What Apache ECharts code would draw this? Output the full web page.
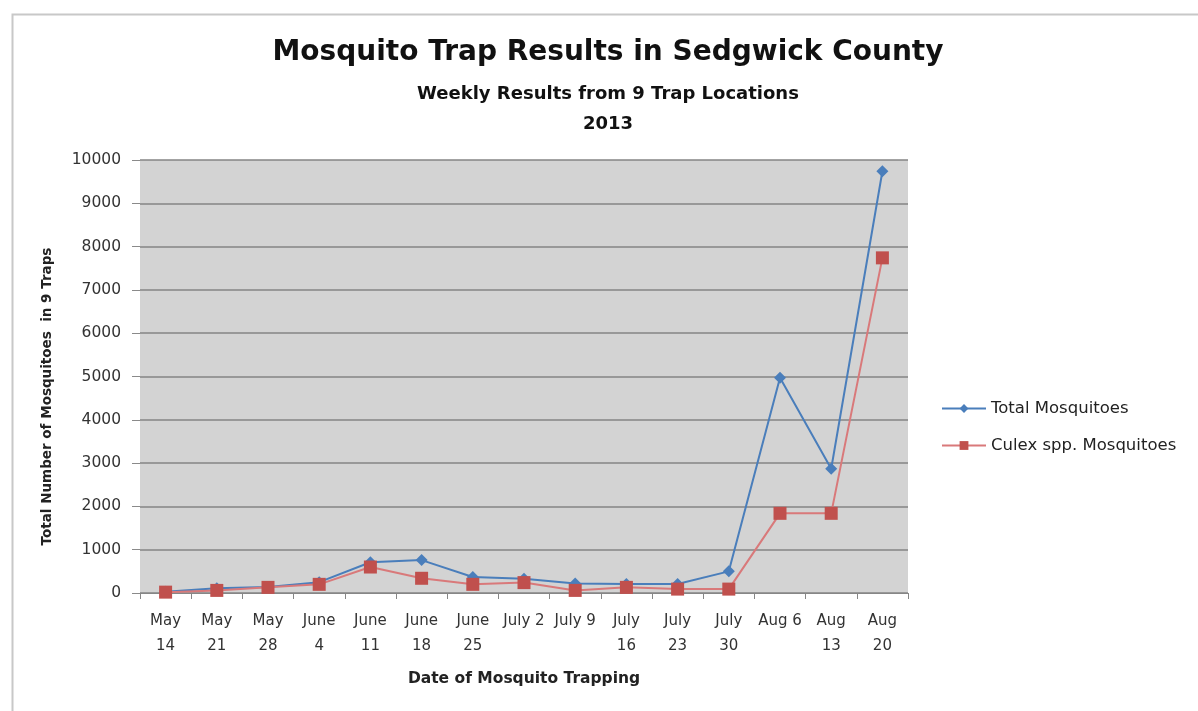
<!DOCTYPE html>
<html>
<head>
<meta charset="utf-8">
<script src="https://cdn.jsdelivr.net/npm/echarts@6/dist/echarts.min.js"></script>
<style>
html,body{margin:0;padding:0;background:#fff;}
#c{width:1198px;height:711px;}
</style>
</head>
<body>
<div id="c"></div>
<script>
var categories = ['May\n14','May\n21','May\n28','June\n4','June\n11','June\n18','June\n25','July 2','July 9','July\n16','July\n23','July\n30','Aug 6','Aug\n13','Aug\n20'];
var totalMosquitoes = [30, 110, 140, 250, 710, 760, 370, 330, 220, 210, 210, 500, 4970, 2870, 9740];
var culexMosquitoes = [20, 60, 130, 200, 600, 340, 200, 240, 60, 130, 90, 90, 1840, 1840, 7740];
var yTicks = {min: 0, max: 10000, interval: 1000};

var FONT = '"DejaVu Sans", sans-serif';
var chart = echarts.init(document.getElementById('c'));
chart.setOption({
  backgroundColor: '#ffffff',
  animation: false,
  graphic: [{
    type: 'rect', left: 10, top: 12, silent: true,
    shape: {width: 1200, height: 720},
    style: {fill: 'none', stroke: '#c8c8c8', lineWidth: 2}
  }],
  title: [{
    text: 'Mosquito Trap Results in Sedgwick County',
    left: 603, top: 34, textAlign: 'center',
    textStyle: {fontFamily: FONT, fontSize: 28, fontWeight: 'bold', color: '#111'}
  }, {
    text: 'Weekly Results from 9 Trap Locations',
    left: 603, top: 80, textAlign: 'center',
    textStyle: {fontFamily: FONT, fontSize: 18, fontWeight: 'bold', color: '#111'}
  }, {
    text: '2013',
    left: 603, top: 110, textAlign: 'center',
    textStyle: {fontFamily: FONT, fontSize: 18, fontWeight: 'bold', color: '#111'}
  }],
  legend: {
    orient: 'vertical', left: 936, top: 395, itemGap: 20, itemWidth: 44, itemHeight: 11,
    textStyle: {fontFamily: FONT, fontSize: 16.5, color: '#222'},
    data: ['Total Mosquitoes', 'Culex spp. Mosquitoes']
  },
  grid: {left: 140, right: 290, top: 160, bottom: 118, show: true, backgroundColor: '#d3d3d3', borderWidth: 0},
  xAxis: {
    type: 'category', data: categories, boundaryGap: true,
    name: 'Date of Mosquito Trapping', nameLocation: 'middle', nameGap: 78,
    nameTextStyle: {fontFamily: FONT, fontSize: 15.5, fontWeight: 'bold', color: '#222'},
    axisLine: {lineStyle: {color: '#868686', width: 1}},
    axisTick: {show: true, length: 6, lineStyle: {color: '#868686'}},
    axisLabel: {interval: 0, fontFamily: FONT, fontSize: 15, lineHeight: 25, color: '#333', margin: 16}
  },
  yAxis: {
    type: 'value', min: yTicks.min, max: yTicks.max, interval: yTicks.interval,
    name: 'Total Number of Mosquitoes  in 9 Traps', nameLocation: 'middle', nameGap: 86,
    nameTextStyle: {fontFamily: FONT, fontSize: 13.5, fontWeight: 'bold', color: '#222', padding: [0, 40, 0, 0]},
    axisLine: {show: false},
    axisTick: {show: true, length: 8, lineStyle: {color: '#8a8a8a'}},
    axisLabel: {fontFamily: FONT, fontSize: 15.5, color: '#333', margin: 19,
      formatter: function (v) { return String(v); }},
    splitLine: {lineStyle: {color: '#858585', width: 1.6}}
  },
  series: [{
    name: 'Total Mosquitoes', type: 'line', data: totalMosquitoes,
    symbol: 'diamond', symbolSize: 12, showAllSymbol: true,
    lineStyle: {color: '#4a7ebb', width: 2},
    itemStyle: {color: '#4a7ebb'}
  }, {
    name: 'Culex spp. Mosquitoes', type: 'line', data: culexMosquitoes,
    symbol: 'rect', symbolSize: 13, showAllSymbol: true,
    lineStyle: {color: '#d9797a', width: 2},
    itemStyle: {color: '#c0504d'}
  }]
});
</script>
</body>
</html>
